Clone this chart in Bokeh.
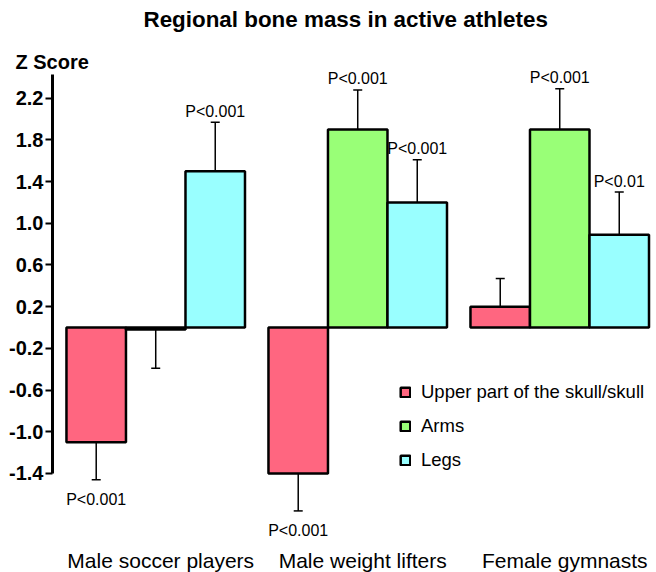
from bokeh.plotting import figure
from bokeh.models import Range1d, FixedTicker, Legend, LegendItem, ColumnDataSource, Label
from bokeh.core.properties import value
from bokeh.embed import file_html
from bokeh.resources import INLINE

# ---- data ----
title_text = "Regional bone mass in active athletes"
y_title = "Z Score"
groups = ["Male soccer players", "Male weight lifters", "Female gymnasts"]
series = ["Upper part of the skull/skull", "Arms", "Legs"]
skull = [-1.1, -1.4, 0.2]
arms = [-0.02, 1.9, 1.9]
legs = [1.5, 1.2, 0.89]
skull_err = [0.36, 0.36, 0.27]
arms_err = [0.37, 0.38, 0.39]
legs_err = [0.47, 0.41, 0.41]
skull_p = ["P<0.001", "P<0.001", ""]
arms_p = ["", "P<0.001", "P<0.001"]
legs_p = ["P<0.001", "P<0.001", "P<0.01"]
y_ticks = [-1.4, -1.0, -0.6, -0.2, 0.2, 0.6, 1.0, 1.4, 1.8, 2.2]
y_tick_labels = ["-1.4", "-1.0", "-0.6", "-0.2", "0.2", "0.6", "1.0", "1.4", "1.8", "2.2"]

# ---- style ----
colors = ["#FF6680", "#99FF77", "#99FFFF"]
FONT = "Liberation Sans"
bar_w = 0.2946

y_rng = Range1d(-2.351, 2.687)
p = figure(width=656, height=572, output_backend="svg", toolbar_location=None,
           x_range=Range1d(0.489, 3.479), y_range=y_rng,
           min_border_left=52, min_border_right=0, min_border_top=0, min_border_bottom=0)
p.outline_line_color = None
p.grid.visible = False
p.xaxis.visible = False
p.background_fill_color = "white"

# titles placed in the top panel
p.add_layout(Label(x=91, y=28, x_units="screen", y_units="screen", text=title_text,
                   text_align="left", text_baseline="middle", text_font=FONT,
                   text_font_size="22.4px", text_font_style="bold", text_color="black"), "above")
p.add_layout(Label(x=-37, y=-39, x_units="screen", y_units="screen", text=y_title,
                   text_align="left", text_baseline="middle", text_font=FONT,
                   text_font_size="20px", text_font_style="bold", text_color="black"), "above")

# y axis
p.yaxis.ticker = FixedTicker(ticks=y_ticks)
p.yaxis.major_label_overrides = dict(zip(y_ticks, y_tick_labels))
p.yaxis.bounds = (-1.4, 2.43)
p.yaxis.axis_line_width = 3
p.yaxis.major_tick_out = 7
p.yaxis.major_tick_in = 0
p.yaxis.major_tick_line_width = 2
p.yaxis.minor_tick_line_color = None
p.yaxis.major_label_standoff = 2
p.yaxis.major_label_text_font = FONT
p.yaxis.major_label_text_font_size = "20px"
p.yaxis.major_label_text_font_style = "bold"
p.yaxis.major_label_text_color = "black"

gx = [i + 1 for i in range(len(groups))]

# category labels under the groups
p.text(x=gx, y=[y_rng.start] * len(gx), text=groups, text_align="center",
       text_baseline="bottom", x_offset=5, y_offset=-1, text_font=value(FONT),
       text_font_size="21px", text_color="black")

vals_all = [skull, arms, legs]
errs_all = [skull_err, arms_err, legs_err]
p_all = [skull_p, arms_p, legs_p]
items = []
for k in range(3):
    xs = [g + (k - 1) * bar_w for g in gx]
    vals = vals_all[k]
    errs = errs_all[k]
    tips = [v + e if v >= 0 else v - e for v, e in zip(vals, errs)]
    src = ColumnDataSource(dict(x=xs, top=vals, tip=tips))
    r = p.vbar(x="x", top="top", bottom=0, width=bar_w, source=src,
               fill_color=colors[k], line_color="black", line_width=2.5)
    p.segment(x0="x", y0="top", x1="x", y1="tip", source=src, line_color="black", line_width=1.5)
    p.dash(x="x", y="tip", source=src, size=9, line_color="black", line_width=1.5)
    items.append(LegendItem(label=series[k], renderers=[r]))
    # significance labels
    up = dict(x=[], y=[], t=[])
    dn = dict(x=[], y=[], t=[])
    for x, v, tp, lab in zip(xs, vals, tips, p_all[k]):
        if not lab:
            continue
        d = up if v >= 0 else dn
        d["x"].append(x); d["y"].append(tp); d["t"].append(lab)
    if up["x"]:
        p.text(x="x", y="y", text="t", source=ColumnDataSource(up), text_align="center",
               text_baseline="alphabetic", y_offset=-11, text_font=value(FONT),
               text_font_size="16px", text_color="black")
    if dn["x"]:
        p.text(x="x", y="y", text="t", source=ColumnDataSource(dn), text_align="center",
               text_baseline="top", y_offset=11, text_font=value(FONT),
               text_font_size="16px", text_color="black")

legend = Legend(items=items, location=(347, 101), orientation="vertical",
                padding=0, margin=0, spacing=12, label_height=21,
                glyph_height=12, glyph_width=12, label_standoff=10,
                label_text_font=FONT, label_text_font_size="18.5px",
                label_text_color="black", border_line_color=None,
                background_fill_alpha=0)
p.add_layout(legend)

open("out.html", "w").write(file_html(p, INLINE))
